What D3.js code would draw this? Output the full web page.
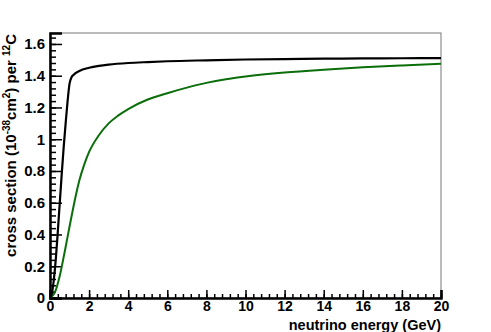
<!DOCTYPE html>
<html>
<head>
<meta charset="utf-8">
<script src="https://cdn.jsdelivr.net/npm/d3@7"></script>
<style>
  body { margin: 0; background: #fff; }
  svg { display: block; }
  text { font-family: "Liberation Sans", Arial, sans-serif; font-weight: bold; }
</style>
</head>
<body>
<svg id="chart" width="491" height="332"></svg>
<script>
// black curve
var blackE = [0, 0.1, 0.2, 0.3, 0.4, 0.5, 0.6, 0.7, 0.8, 0.9, 1.0, 1.1, 1.2, 1.5, 2, 2.5, 3, 4, 5, 6, 8, 10, 12, 14, 16, 18, 20];
var blackV = [0, 0.03, 0.12, 0.25, 0.42, 0.6, 0.78, 0.95, 1.1, 1.24, 1.35, 1.39, 1.405, 1.43, 1.45, 1.462, 1.47, 1.48, 1.486, 1.491, 1.497, 1.502, 1.505, 1.507, 1.509, 1.51, 1.511];
// green curve
var greenE = [0, 0.25, 0.5, 0.75, 1.0, 1.25, 1.5, 1.75, 2, 2.5, 3, 3.5, 4, 5, 6, 7, 8, 9, 10, 12, 14, 16, 18, 20];
var greenV = [0, 0.035, 0.14, 0.29, 0.45, 0.605, 0.74, 0.84, 0.92, 1.025, 1.1, 1.15, 1.19, 1.25, 1.29, 1.325, 1.355, 1.378, 1.395, 1.42, 1.438, 1.453, 1.465, 1.476];

var xTicks = [0, 2, 4, 6, 8, 10, 12, 14, 16, 18, 20];
var yTicks = [0, 0.2, 0.4, 0.6, 0.8, 1, 1.2, 1.4, 1.6];

var margin = {top: 33, right: 50, bottom: 34, left: 50},
    width = 491 - margin.left - margin.right,
    height = 332 - margin.top - margin.bottom;

var svg = d3.select("#chart");
var g = svg.append("g").attr("transform", "translate(" + margin.left + "," + margin.top + ")");

var x = d3.scaleLinear().domain([0, 20]).range([0, width]);
var y = d3.scaleLinear().domain([0, 1.669]).range([height, 0]);

// frame (top / right)
g.append("rect")
    .attr("x", 0).attr("y", 0)
    .attr("width", width).attr("height", height)
    .attr("fill", "none").attr("stroke", "#777").attr("stroke-width", 1);

// minor ticks
var xMinor = d3.range(0, 20.001, 0.4);
var yMinor = d3.range(0, 1.66, 0.04);

var xAxisMinor = d3.axisBottom(x).tickValues(xMinor).tickSize(-4).tickFormat("");
g.append("g").attr("transform", "translate(0," + height + ")").call(xAxisMinor)
    .call(function(s) { s.select(".domain").remove(); })
    .selectAll("line").attr("stroke", "#000").attr("stroke-width", 1.5);

var yAxisMinor = d3.axisLeft(y).tickValues(yMinor).tickSize(-6).tickFormat("");
g.append("g").call(yAxisMinor)
    .call(function(s) { s.select(".domain").remove(); })
    .selectAll("line").attr("stroke", "#000").attr("stroke-width", 1.5);

// major axes
var xAxis = d3.axisBottom(x).tickValues(xTicks).tickSize(-8).tickPadding(3).tickFormat(d3.format("d"));
var gx = g.append("g").attr("transform", "translate(0," + height + ")").call(xAxis);
gx.select(".domain").attr("stroke-width", 2.5);
gx.selectAll("line").attr("stroke-width", 1.5);
gx.selectAll("text").attr("font-size", 14).attr("dy", "0.72em").attr("y", 3);

var yAxis = d3.axisLeft(y).tickValues(yTicks).tickSize(-12).tickPadding(5)
    .tickFormat(function(d) { return d === 0 ? "0" : d3.format("~g")(d); });
var gy = g.append("g").call(yAxis);
gy.select(".domain").attr("stroke-width", 2.5);
gy.selectAll("line").attr("stroke-width", 1.5);
gy.selectAll("text").attr("font-size", 15);

// curves
var line = d3.line()
    .x(function(d) { return x(d[0]); })
    .y(function(d) { return y(d[1]); })
    .curve(d3.curveMonotoneX);

g.append("path")
    .datum(greenE.map(function(e, i) { return [e, greenV[i]]; }))
    .attr("fill", "none").attr("stroke", "#0a6e0a").attr("stroke-width", 2)
    .attr("d", line);

g.append("path")
    .datum(blackE.map(function(e, i) { return [e, blackV[i]]; }))
    .attr("fill", "none").attr("stroke", "#000").attr("stroke-width", 2.2)
    .attr("d", line);

// axis titles
svg.append("text")
    .attr("x", margin.left + width).attr("y", 330)
    .attr("text-anchor", "end").attr("font-size", 14.5)
    .text("neutrino energy (GeV)");

var yt = svg.append("text")
    .attr("transform", "translate(16," + (margin.top + 1) + ") rotate(-90)")
    .attr("text-anchor", "end").attr("font-size", 15);
yt.append("tspan").text("cross section (10");
yt.append("tspan").attr("font-size", 10).attr("dy", -6).text("-38");
yt.append("tspan").attr("dy", 6).text("cm");
yt.append("tspan").attr("font-size", 10).attr("dy", -6).text("2");
yt.append("tspan").attr("dy", 6).text(") per ");
yt.append("tspan").attr("font-size", 10).attr("dy", -6).text("12");
yt.append("tspan").attr("dy", 6).text("C");
</script>
</body>
</html>
